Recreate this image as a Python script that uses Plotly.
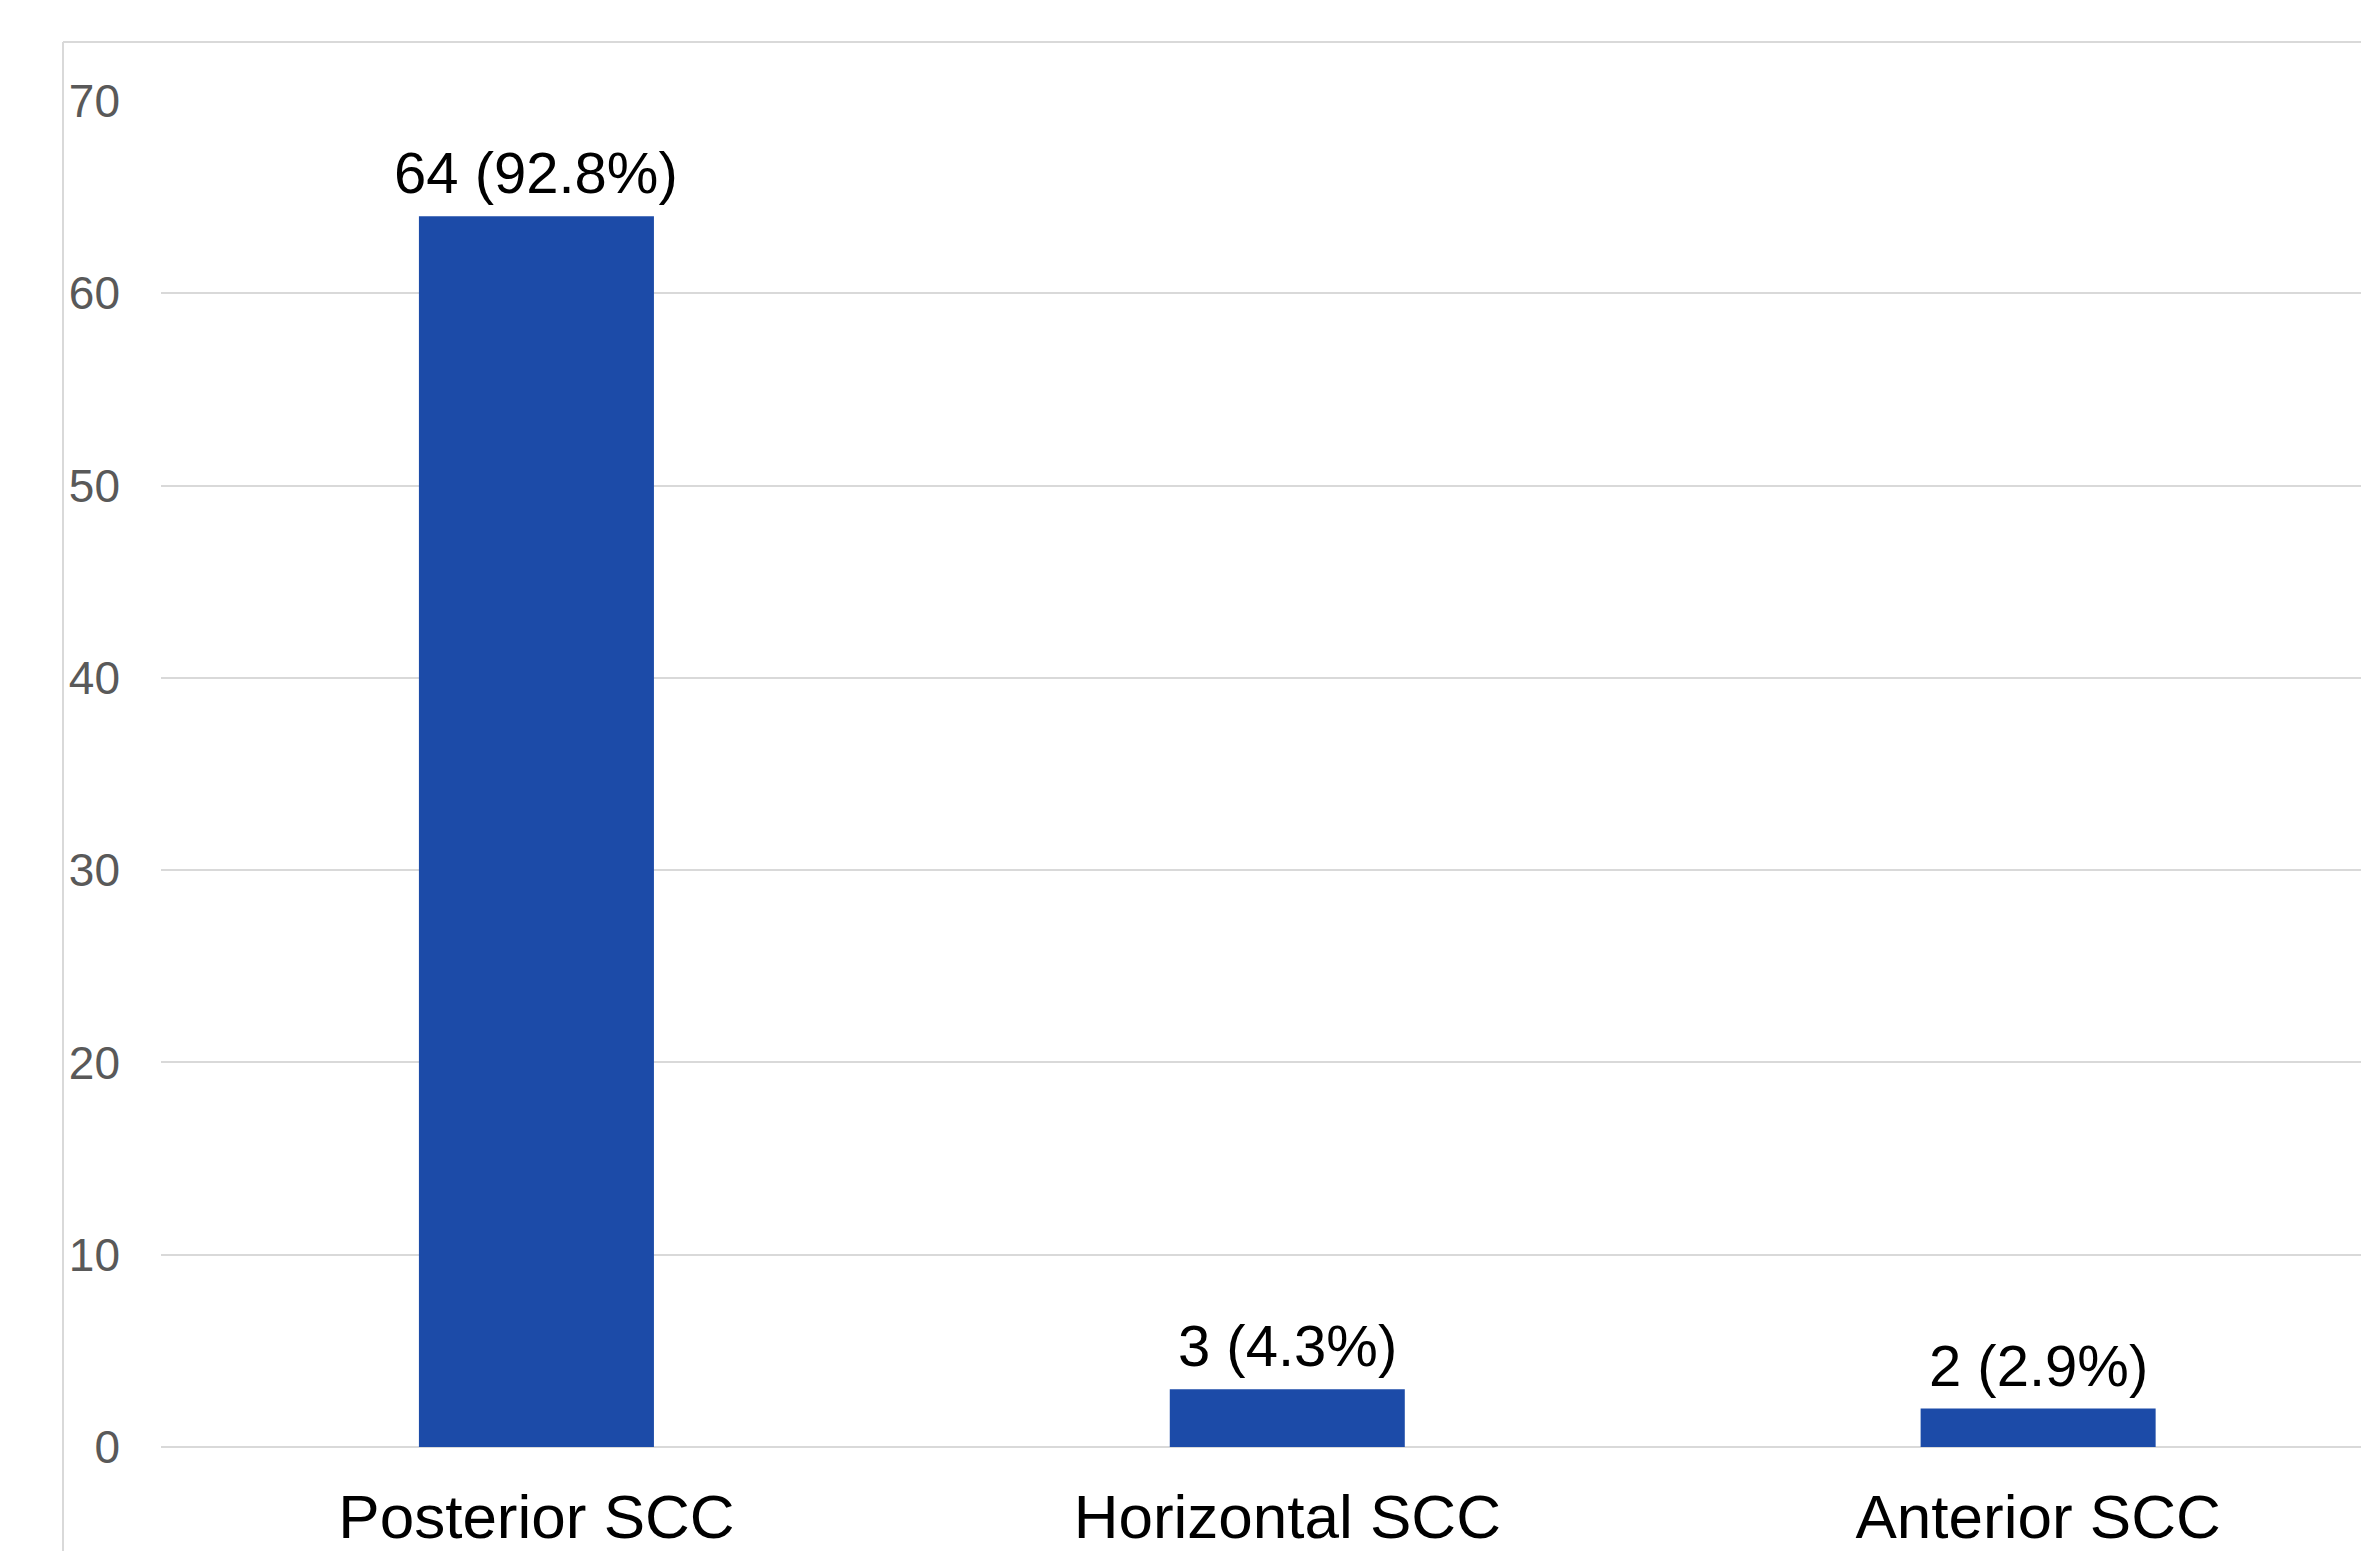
import plotly.graph_objects as go

categories = ["Posterior SCC", "Horizontal SCC", "Anterior SCC"]
counts = [64, 3, 2]
percents = [92.8, 4.3, 2.9]
y_ticks = [0, 10, 20, 30, 40, 50, 60, 70]

W, H = 2361, 1551
L, R, T, B = 161, 0, 101, 104
pw, ph = W - L - R, H - T - B

def px_x(px):
    return (px - L) / pw

def px_y(py):
    return (H - B - py) / ph

labels = [f"{c} ({p}%)" for c, p in zip(counts, percents)]
font = "Liberation Sans, Arial"

fig = go.Figure(
    go.Bar(
        x=categories,
        y=counts,
        marker=dict(color="#1c4ba8", line=dict(width=0)),
        width=0.313,
        hoverinfo="x+y",
    )
)

for cat, cnt, lab in zip(categories, counts, labels):
    fig.add_annotation(
        x=cat, y=cnt, text=lab, showarrow=False,
        xanchor="center", yanchor="bottom", yshift=9,
        font=dict(family=font, size=58, color="#000000"),
    )

fig.update_layout(
    width=W,
    height=H,
    margin=dict(l=L, r=R, t=T, b=B, pad=0),
    paper_bgcolor="white",
    plot_bgcolor="white",
    showlegend=False,
    font=dict(family=font),
    xaxis=dict(
        range=[-0.5, 2.43],
        automargin=False,
        showgrid=False,
        showline=False,
        zeroline=False,
        ticks="",
        tickfont=dict(family=font, size=62, color="#000000"),
        ticklabelstandoff=28,
    ),
    yaxis=dict(
        range=[0, 70],
        automargin=False,
        tickvals=y_ticks,
        showgrid=True,
        gridcolor="#d9d9d9",
        gridwidth=2,
        zeroline=True,
        zerolinecolor="#d9d9d9",
        zerolinewidth=2,
        showline=False,
        ticks="",
        tickfont=dict(family=font, size=46, color="#595959"),
        ticklabelstandoff=40,
    ),
    shapes=[
        dict(type="line", xref="paper", yref="paper",
             x0=px_x(63), x1=px_x(63), y0=px_y(42), y1=px_y(1600),
             line=dict(color="#d9d9d9", width=2)),
        dict(type="line", xref="paper", yref="paper",
             x0=px_x(63), x1=px_x(2400), y0=px_y(42), y1=px_y(42),
             line=dict(color="#d9d9d9", width=2)),
    ],
)

fig.write_html("out.html")
